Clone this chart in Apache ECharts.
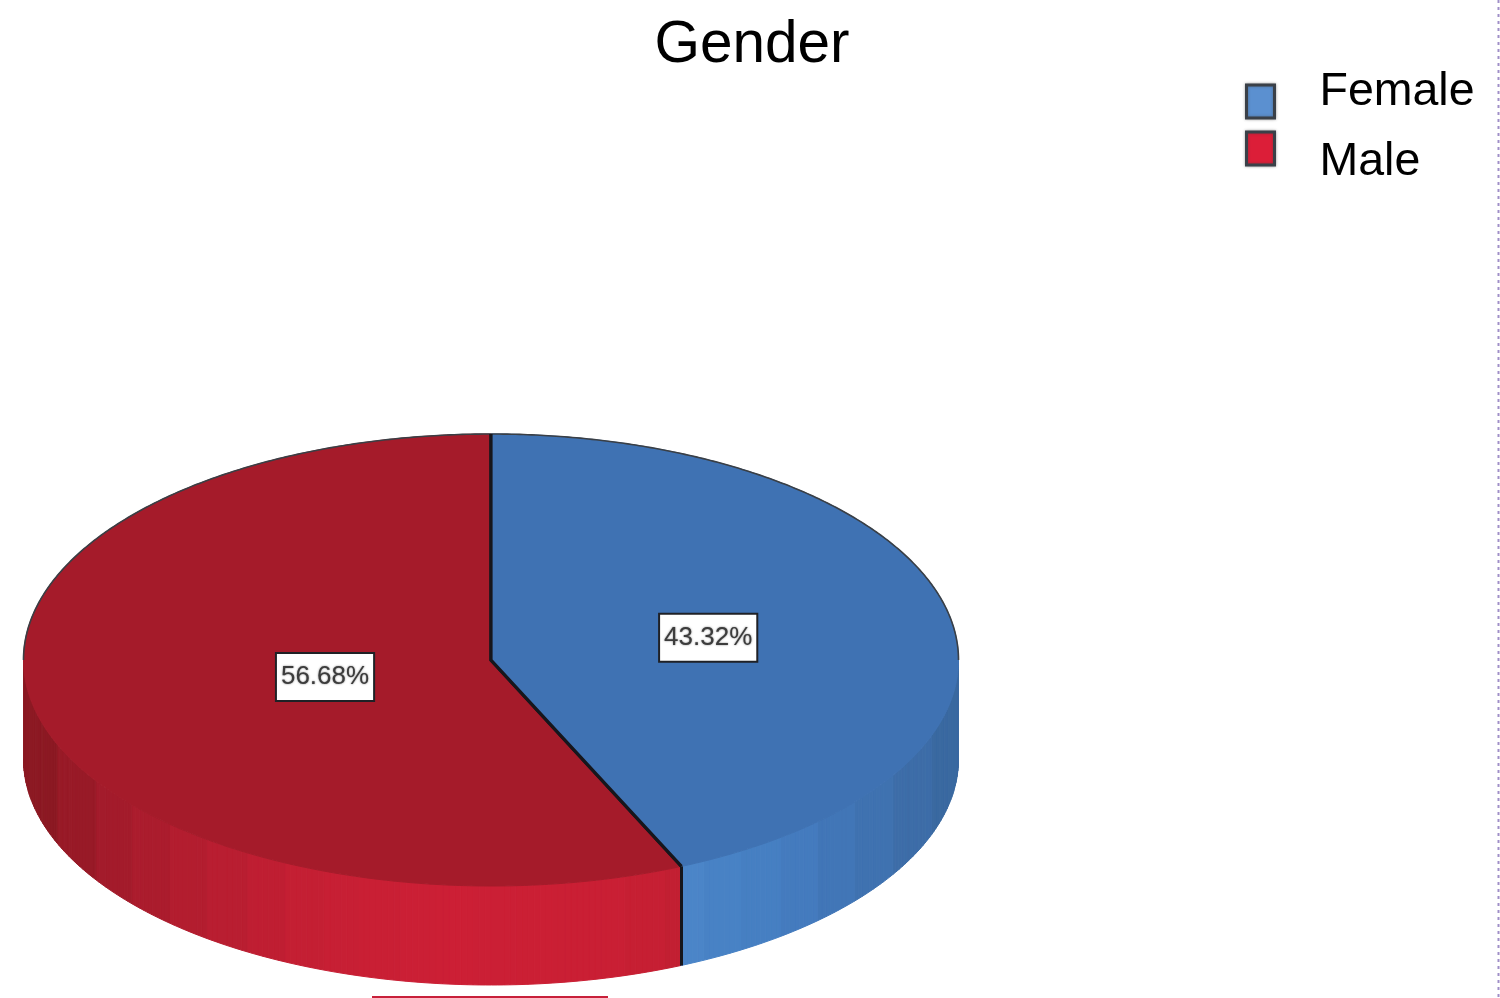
<!DOCTYPE html>
<html>
<head>
<meta charset="utf-8">
<style>html,body{margin:0;padding:0;background:#fff}#chart{width:1500px;height:998px}</style>
<script src="https://cdn.jsdelivr.net/npm/echarts@6/dist/echarts.min.js"></script>
</head>
<body>
<div id="chart"></div>
<script>
const categories = ['Female', 'Male'];
const percentValues = [43.32, 56.68];

const FONT = '"Liberation Sans", Arial, sans-serif';
const CX = 491, CY = 660, RX = 467.5, RY = 226, DEPTH = 99;
const topColors = ['#3f72b3', '#a51b2a'];
const legendColors = ['#5b90d0', '#dc1e38'];
const labelRadius = [0.475, 0.363];
// wall shading: stops as [x pixel, colour]
const wallStops = [
  [[682, [75, 133, 200]], [790, [68, 124, 191]], [870, [63, 114, 177]], [958, [58, 104, 158]]],
  [[24, [136, 24, 34]], [100, [160, 27, 42]], [200, [181, 29, 48]], [300, [196, 31, 51]], [430, [204, 31, 53]], [600, [202, 31, 52]], [682, [194, 31, 50]]]
];
const BAND_PX = 38;

function wallColor(i, x) {
  const stops = wallStops[i];
  const bx = Math.round(x / BAND_PX) * BAND_PX;
  let a = stops[0], b = stops[stops.length - 1];
  if (bx <= a[0]) return 'rgb(' + a[1].join(',') + ')';
  if (bx >= b[0]) return 'rgb(' + b[1].join(',') + ')';
  for (let k = 0; k < stops.length - 1; k++) {
    if (bx >= stops[k][0] && bx <= stops[k + 1][0]) { a = stops[k]; b = stops[k + 1]; break; }
  }
  const t = (bx - a[0]) / (b[0] - a[0]);
  return 'rgb(' + a[1].map((v, j) => Math.round(v + (b[1][j] - v) * t)).join(',') + ')';
}
function pt(deg, dy) {
  const r = deg * Math.PI / 180;
  return [CX + RX * Math.sin(r), CY - RY * Math.cos(r) + (dy || 0)];
}
function arcPoints(a, b, dy) {
  const pts = [], n = Math.max(2, Math.ceil(Math.abs(b - a) * 2));
  for (let k = 0; k <= n; k++) pts.push(pt(a + (b - a) * k / n, dy));
  return pts;
}
const total = percentValues.reduce((s, v) => s + v, 0);
function sliceAngles(i) {
  let s = 0;
  for (let k = 0; k < i; k++) s += percentValues[k];
  return [s / total * 360, (s + percentValues[i]) / total * 360];
}
function makeRender(i) {
  return function (params, api) {
    const value = api.value(0);
    const [a0, a1] = sliceAngles(i);
    const children = [];
    // side wall, only where it faces the viewer
    const w0 = Math.max(a0, 90), w1 = Math.min(a1, 270);
    for (let d = w0; d < w1; d += 0.75) {
      const e = Math.min(d + 0.75, w1);
      const p0 = pt(d), p1 = pt(e);
      const c = wallColor(i, (p0[0] + p1[0]) / 2);
      children.push({
        type: 'polygon',
        shape: { points: [p0, p1, pt(e, DEPTH), pt(d, DEPTH)] },
        style: { fill: c, stroke: c, lineWidth: 1 }
      });
    }
    // top face
    const arc = arcPoints(a0, a1);
    children.push({
      type: 'polygon',
      shape: { points: [[CX, CY]].concat(arc) },
      style: { fill: topColors[i], stroke: topColors[i], lineWidth: 1 }
    });
    // thin outline on the far rim
    const rimA = Math.max(a0, i === 0 ? 0 : 270), rimB = i === 0 ? Math.min(a1, 90) : Math.min(a1, 360);
    if (rimB > rimA) {
      children.push({
        type: 'polyline',
        shape: { points: arcPoints(rimA, rimB) },
        style: { fill: null, stroke: '#3a3f45', lineWidth: 1.6 }
      });
    }
    // slice edges
    children.push({
      type: 'polyline',
      shape: { points: [pt(a0), [CX, CY], pt(a1)] },
      style: { fill: null, stroke: '#16161c', lineWidth: 3.2, lineJoin: 'miter' }
    });
    // edge on the wall where the slices meet
    const meet = i === 0 ? a1 : a0;
    children.push({
      type: 'line',
      shape: { x1: pt(meet)[0], y1: pt(meet)[1], x2: pt(meet)[0], y2: pt(meet, DEPTH)[1] },
      style: { stroke: '#16161c', lineWidth: 3 }
    });
    // value label
    const mid = (a0 + a1) / 2 * Math.PI / 180;
    children.push({
      type: 'text',
      z2: 10,
      x: CX + RX * labelRadius[i] * Math.sin(mid),
      y: CY - RY * labelRadius[i] * Math.cos(mid),
      style: {
        text: value.toFixed(2) + '%',
        font: '26px ' + FONT,
        fill: '#3c3c3c',
        align: 'center',
        verticalAlign: 'middle',
        backgroundColor: '#ffffff',
        borderColor: '#1f2126',
        borderWidth: 2,
        padding: [10, 4, 10, 4],
        textShadowColor: 'rgba(70,70,70,0.7)',
        textShadowBlur: 2
      }
    });
    return { type: 'group', children };
  };
}

const chart = echarts.init(document.getElementById('chart'), null, { renderer: 'canvas' });
function legendFor(i, top, lineHeight, fmt) {
  return {
    orient: 'vertical', left: 1245, top, padding: 0, selectedMode: false,
    itemWidth: 28, itemHeight: 33,
    data: [{
      name: categories[i], icon: 'rect',
      itemStyle: { color: legendColors[i], borderColor: '#3a4048', borderWidth: 3, shadowColor: 'rgba(60,60,60,0.45)', shadowBlur: 3 }
    }],
    formatter: fmt,
    textStyle: { fontFamily: FONT, fontSize: 46.5, color: '#000', lineHeight, padding: [0, 0, 0, 40] }
  };
}
chart.setOption({
  animation: false,
  backgroundColor: '#ffffff',
  title: {
    text: 'Gender', left: 752, top: 46, textAlign: 'center', textVerticalAlign: 'middle', padding: 0,
    textStyle: { fontFamily: FONT, fontSize: 58.5, fontWeight: 'normal', color: '#000' }
  },
  legend: [
    legendFor(0, 69, 18, name => name + '\n '),
    legendFor(1, 111, 28, name => ' \n' + name)
  ],
  series: categories.map((name, i) => ({
    type: 'custom', name, coordinateSystem: 'none', silent: true, z: i === 0 ? 3 : 2,
    itemStyle: { color: legendColors[i] },
    renderItem: makeRender(i),
    data: [[percentValues[i]]]
  })),
  graphic: [
    { type: 'rect', shape: { x: 372, y: 996, width: 236, height: 2 }, style: { fill: '#c8203a' }, silent: true },
    { type: 'line', shape: { x1: 1498.5, y1: 0, x2: 1498.5, y2: 998 }, style: { stroke: '#a08fc8', lineWidth: 2, lineDash: [3, 4] }, silent: true }
  ]
});
</script>
</body>
</html>
